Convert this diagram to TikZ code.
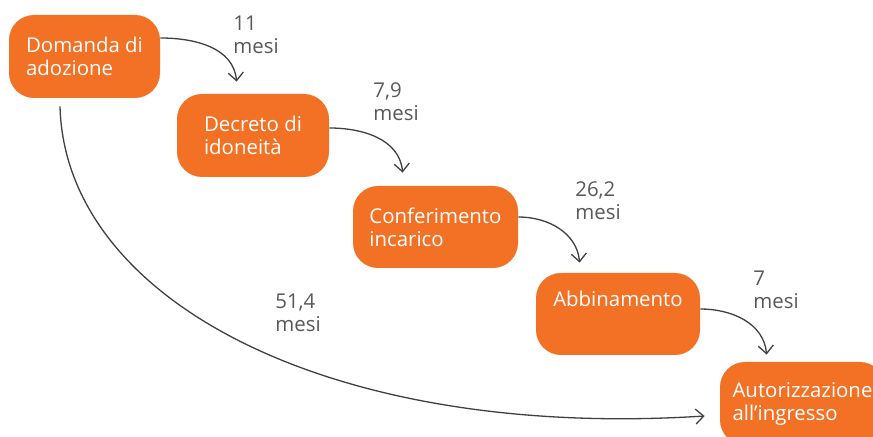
\documentclass[tikz,border=0pt]{standalone}
\usepackage{fontspec}
\setmainfont{Open Sans}
\usepackage{tikz}
\usetikzlibrary{positioning, shapes, arrows.meta}

\definecolor{boxorange}{RGB}{242,113,37}
\definecolor{labelgray}{RGB}{89,89,89}
\definecolor{arrowgray}{RGB}{64,64,64}

\begin{document}
\begin{tikzpicture}[x=0.5pt, y=-0.5pt,
        stepbox/.style={fill=boxorange, text=white, rounded corners=12.5pt, align=left, inner sep=0pt, font=\fontsize{10.2}{11.5}\selectfont},
        months/.style={text=labelgray, align=left, anchor=north west, inner sep=0pt, font=\fontsize{10.2}{11.5}\selectfont},
        link/.style={draw=arrowgray, line width=0.65pt, -{Straight Barb[length=4pt, width=7.5pt]}}]

        \useasboundingbox (0,0) rectangle (873,437);
        \clip (0,0) rectangle (873,437);

        \node[stepbox, minimum width=75.5pt, minimum height=41.5pt] (domanda) at (84.5,56.5) {Domanda di\\adozione};
        \node[stepbox, minimum width=76pt, minimum height=41.5pt] (decreto) at (253,135.5) {Decreto di\\idoneità};
        \node[stepbox, minimum width=82.5pt, minimum height=41pt] (conferimento) at (435.5,227) {Conferimento\\incarico};
        \node[stepbox, minimum width=82pt, minimum height=41pt] (abbinamento) at (618,314) {Abbinamento\\\strut};
        \node[stepbox, minimum width=82.5pt, minimum height=41.5pt] (autorizzazione) at (802.5,403.5) {Autorizzazione\\all’ingresso};

        \node[months] (mesi1) at (233,16) {11\\mesi};
        \node[months] (mesi2) at (373,82) {7,9\\mesi};
        \node[months] (mesi3) at (575,181) {26,2\\mesi};
        \node[months] (mesi4) at (753,271) {7\\mesi};
        \node[months] (mesitot) at (275,293) {51,4\\mesi};

        \draw[link] ([yshift=9.25pt]domanda.east) to[out=0, in=95] ([shift={(60,-12)}]decreto.north west);
        \draw[link] ([yshift=3.75pt]decreto.east) to[out=0, in=95] ([shift={(50,-13)}]conferimento.north west);
        \draw[link] ([yshift=5pt]conferimento.east) to[out=0, in=95] ([shift={(44,-10)}]abbinamento.north west);
        \draw[link] ([yshift=2.5pt]abbinamento.east) to[out=0, in=95] ([shift={(47,-7)}]autorizzazione.north west);

        \draw[link] ([shift={(-24.5,8)}]domanda.south) .. controls +(5,194) and +(-375,24) .. ([shift={(-15,12.5)}]autorizzazione.west);

\end{tikzpicture}
\end{document}
